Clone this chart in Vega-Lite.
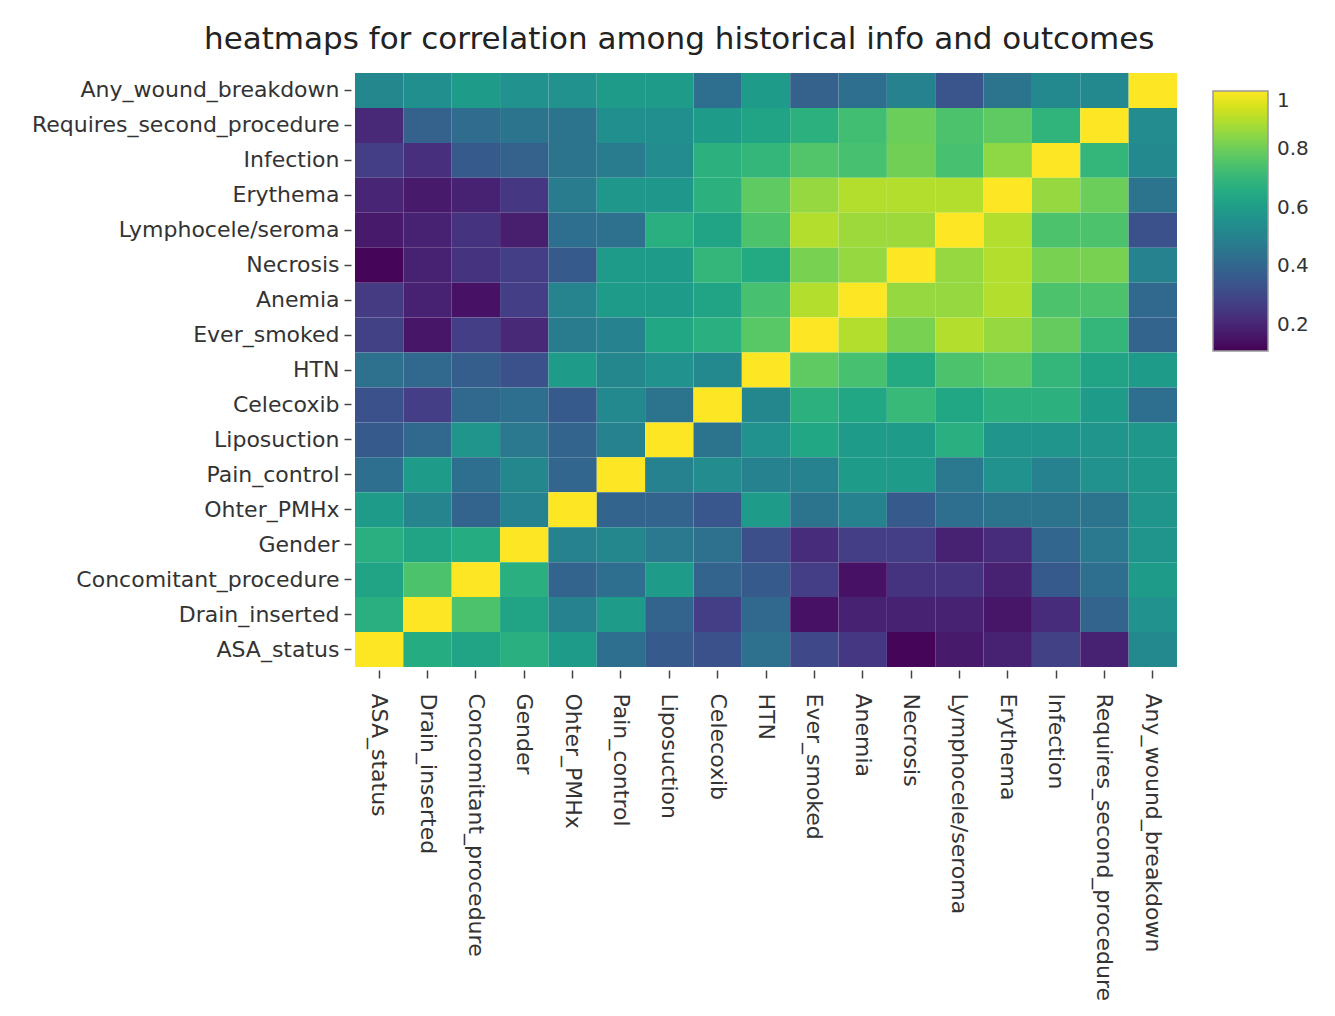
{
  "$schema": "https://vega.github.io/schema/vega-lite/v6.json",
  "width": 822,
  "height": 594,
  "padding": {"left": 31, "top": 24, "right": 5, "bottom": 5},
  "background": "white",
  "title": {"text": "heatmaps for correlation among historical info and outcomes", "font": "DejaVu Sans", "fontSize": 31, "fontWeight": "normal", "color": "#222", "anchor": "middle", "frame": "bounds", "offset": 17},
  "data": {"values": [
{"row":"Any_wound_breakdown","col":"ASA_status","corr":0.52},{"row":"Any_wound_breakdown","col":"Drain_inserted","corr":0.55},{"row":"Any_wound_breakdown","col":"Concomitant_procedure","corr":0.6},{"row":"Any_wound_breakdown","col":"Gender","corr":0.56},{"row":"Any_wound_breakdown","col":"Ohter_PMHx","corr":0.56},{"row":"Any_wound_breakdown","col":"Pain_control","corr":0.6},{"row":"Any_wound_breakdown","col":"Liposuction","corr":0.6},{"row":"Any_wound_breakdown","col":"Celecoxib","corr":0.43},{"row":"Any_wound_breakdown","col":"HTN","corr":0.6},{"row":"Any_wound_breakdown","col":"Ever_smoked","corr":0.38},{"row":"Any_wound_breakdown","col":"Anemia","corr":0.43},{"row":"Any_wound_breakdown","col":"Necrosis","corr":0.5},{"row":"Any_wound_breakdown","col":"Lymphocele/seroma","corr":0.34},{"row":"Any_wound_breakdown","col":"Erythema","corr":0.45},{"row":"Any_wound_breakdown","col":"Infection","corr":0.53},{"row":"Any_wound_breakdown","col":"Requires_second_procedure","corr":0.53},{"row":"Any_wound_breakdown","col":"Any_wound_breakdown","corr":1},
{"row":"Requires_second_procedure","col":"ASA_status","corr":0.21},{"row":"Requires_second_procedure","col":"Drain_inserted","corr":0.38},{"row":"Requires_second_procedure","col":"Concomitant_procedure","corr":0.42},{"row":"Requires_second_procedure","col":"Gender","corr":0.45},{"row":"Requires_second_procedure","col":"Ohter_PMHx","corr":0.45},{"row":"Requires_second_procedure","col":"Pain_control","corr":0.55},{"row":"Requires_second_procedure","col":"Liposuction","corr":0.55},{"row":"Requires_second_procedure","col":"Celecoxib","corr":0.6},{"row":"Requires_second_procedure","col":"HTN","corr":0.63},{"row":"Requires_second_procedure","col":"Ever_smoked","corr":0.68},{"row":"Requires_second_procedure","col":"Anemia","corr":0.73},{"row":"Requires_second_procedure","col":"Necrosis","corr":0.8},{"row":"Requires_second_procedure","col":"Lymphocele/seroma","corr":0.75},{"row":"Requires_second_procedure","col":"Erythema","corr":0.78},{"row":"Requires_second_procedure","col":"Infection","corr":0.69},{"row":"Requires_second_procedure","col":"Requires_second_procedure","corr":1},{"row":"Requires_second_procedure","col":"Any_wound_breakdown","corr":0.54},
{"row":"Infection","col":"ASA_status","corr":0.27},{"row":"Infection","col":"Drain_inserted","corr":0.23},{"row":"Infection","col":"Concomitant_procedure","corr":0.36},{"row":"Infection","col":"Gender","corr":0.38},{"row":"Infection","col":"Ohter_PMHx","corr":0.45},{"row":"Infection","col":"Pain_control","corr":0.48},{"row":"Infection","col":"Liposuction","corr":0.54},{"row":"Infection","col":"Celecoxib","corr":0.68},{"row":"Infection","col":"HTN","corr":0.7},{"row":"Infection","col":"Ever_smoked","corr":0.76},{"row":"Infection","col":"Anemia","corr":0.74},{"row":"Infection","col":"Necrosis","corr":0.81},{"row":"Infection","col":"Lymphocele/seroma","corr":0.74},{"row":"Infection","col":"Erythema","corr":0.85},{"row":"Infection","col":"Infection","corr":1},{"row":"Infection","col":"Requires_second_procedure","corr":0.7},{"row":"Infection","col":"Any_wound_breakdown","corr":0.53},
{"row":"Erythema","col":"ASA_status","corr":0.2},{"row":"Erythema","col":"Drain_inserted","corr":0.17},{"row":"Erythema","col":"Concomitant_procedure","corr":0.19},{"row":"Erythema","col":"Gender","corr":0.25},{"row":"Erythema","col":"Ohter_PMHx","corr":0.48},{"row":"Erythema","col":"Pain_control","corr":0.58},{"row":"Erythema","col":"Liposuction","corr":0.58},{"row":"Erythema","col":"Celecoxib","corr":0.68},{"row":"Erythema","col":"HTN","corr":0.78},{"row":"Erythema","col":"Ever_smoked","corr":0.86},{"row":"Erythema","col":"Anemia","corr":0.9},{"row":"Erythema","col":"Necrosis","corr":0.9},{"row":"Erythema","col":"Lymphocele/seroma","corr":0.9},{"row":"Erythema","col":"Erythema","corr":1},{"row":"Erythema","col":"Infection","corr":0.86},{"row":"Erythema","col":"Requires_second_procedure","corr":0.8},{"row":"Erythema","col":"Any_wound_breakdown","corr":0.45},
{"row":"Lymphocele/seroma","col":"ASA_status","corr":0.17},{"row":"Lymphocele/seroma","col":"Drain_inserted","corr":0.19},{"row":"Lymphocele/seroma","col":"Concomitant_procedure","corr":0.24},{"row":"Lymphocele/seroma","col":"Gender","corr":0.18},{"row":"Lymphocele/seroma","col":"Ohter_PMHx","corr":0.43},{"row":"Lymphocele/seroma","col":"Pain_control","corr":0.44},{"row":"Lymphocele/seroma","col":"Liposuction","corr":0.67},{"row":"Lymphocele/seroma","col":"Celecoxib","corr":0.63},{"row":"Lymphocele/seroma","col":"HTN","corr":0.75},{"row":"Lymphocele/seroma","col":"Ever_smoked","corr":0.9},{"row":"Lymphocele/seroma","col":"Anemia","corr":0.87},{"row":"Lymphocele/seroma","col":"Necrosis","corr":0.87},{"row":"Lymphocele/seroma","col":"Lymphocele/seroma","corr":1},{"row":"Lymphocele/seroma","col":"Erythema","corr":0.9},{"row":"Lymphocele/seroma","col":"Infection","corr":0.75},{"row":"Lymphocele/seroma","col":"Requires_second_procedure","corr":0.75},{"row":"Lymphocele/seroma","col":"Any_wound_breakdown","corr":0.33},
{"row":"Necrosis","col":"ASA_status","corr":0.12},{"row":"Necrosis","col":"Drain_inserted","corr":0.19},{"row":"Necrosis","col":"Concomitant_procedure","corr":0.24},{"row":"Necrosis","col":"Gender","corr":0.27},{"row":"Necrosis","col":"Ohter_PMHx","corr":0.36},{"row":"Necrosis","col":"Pain_control","corr":0.6},{"row":"Necrosis","col":"Liposuction","corr":0.6},{"row":"Necrosis","col":"Celecoxib","corr":0.7},{"row":"Necrosis","col":"HTN","corr":0.65},{"row":"Necrosis","col":"Ever_smoked","corr":0.82},{"row":"Necrosis","col":"Anemia","corr":0.86},{"row":"Necrosis","col":"Necrosis","corr":1},{"row":"Necrosis","col":"Lymphocele/seroma","corr":0.86},{"row":"Necrosis","col":"Erythema","corr":0.9},{"row":"Necrosis","col":"Infection","corr":0.82},{"row":"Necrosis","col":"Requires_second_procedure","corr":0.82},{"row":"Necrosis","col":"Any_wound_breakdown","corr":0.5},
{"row":"Anemia","col":"ASA_status","corr":0.26},{"row":"Anemia","col":"Drain_inserted","corr":0.19},{"row":"Anemia","col":"Concomitant_procedure","corr":0.15},{"row":"Anemia","col":"Gender","corr":0.27},{"row":"Anemia","col":"Ohter_PMHx","corr":0.51},{"row":"Anemia","col":"Pain_control","corr":0.6},{"row":"Anemia","col":"Liposuction","corr":0.6},{"row":"Anemia","col":"Celecoxib","corr":0.63},{"row":"Anemia","col":"HTN","corr":0.74},{"row":"Anemia","col":"Ever_smoked","corr":0.9},{"row":"Anemia","col":"Anemia","corr":1},{"row":"Anemia","col":"Necrosis","corr":0.86},{"row":"Anemia","col":"Lymphocele/seroma","corr":0.86},{"row":"Anemia","col":"Erythema","corr":0.9},{"row":"Anemia","col":"Infection","corr":0.75},{"row":"Anemia","col":"Requires_second_procedure","corr":0.75},{"row":"Anemia","col":"Any_wound_breakdown","corr":0.41},
{"row":"Ever_smoked","col":"ASA_status","corr":0.28},{"row":"Ever_smoked","col":"Drain_inserted","corr":0.16},{"row":"Ever_smoked","col":"Concomitant_procedure","corr":0.27},{"row":"Ever_smoked","col":"Gender","corr":0.21},{"row":"Ever_smoked","col":"Ohter_PMHx","corr":0.48},{"row":"Ever_smoked","col":"Pain_control","corr":0.5},{"row":"Ever_smoked","col":"Liposuction","corr":0.64},{"row":"Ever_smoked","col":"Celecoxib","corr":0.67},{"row":"Ever_smoked","col":"HTN","corr":0.77},{"row":"Ever_smoked","col":"Ever_smoked","corr":1},{"row":"Ever_smoked","col":"Anemia","corr":0.9},{"row":"Ever_smoked","col":"Necrosis","corr":0.82},{"row":"Ever_smoked","col":"Lymphocele/seroma","corr":0.9},{"row":"Ever_smoked","col":"Erythema","corr":0.86},{"row":"Ever_smoked","col":"Infection","corr":0.79},{"row":"Ever_smoked","col":"Requires_second_procedure","corr":0.7},{"row":"Ever_smoked","col":"Any_wound_breakdown","corr":0.39},
{"row":"HTN","col":"ASA_status","corr":0.44},{"row":"HTN","col":"Drain_inserted","corr":0.41},{"row":"HTN","col":"Concomitant_procedure","corr":0.37},{"row":"HTN","col":"Gender","corr":0.33},{"row":"HTN","col":"Ohter_PMHx","corr":0.6},{"row":"HTN","col":"Pain_control","corr":0.52},{"row":"HTN","col":"Liposuction","corr":0.56},{"row":"HTN","col":"Celecoxib","corr":0.53},{"row":"HTN","col":"HTN","corr":1},{"row":"HTN","col":"Ever_smoked","corr":0.78},{"row":"HTN","col":"Anemia","corr":0.74},{"row":"HTN","col":"Necrosis","corr":0.65},{"row":"HTN","col":"Lymphocele/seroma","corr":0.75},{"row":"HTN","col":"Erythema","corr":0.77},{"row":"HTN","col":"Infection","corr":0.7},{"row":"HTN","col":"Requires_second_procedure","corr":0.63},{"row":"HTN","col":"Any_wound_breakdown","corr":0.6},
{"row":"Celecoxib","col":"ASA_status","corr":0.33},{"row":"Celecoxib","col":"Drain_inserted","corr":0.27},{"row":"Celecoxib","col":"Concomitant_procedure","corr":0.41},{"row":"Celecoxib","col":"Gender","corr":0.43},{"row":"Celecoxib","col":"Ohter_PMHx","corr":0.36},{"row":"Celecoxib","col":"Pain_control","corr":0.53},{"row":"Celecoxib","col":"Liposuction","corr":0.45},{"row":"Celecoxib","col":"Celecoxib","corr":1},{"row":"Celecoxib","col":"HTN","corr":0.52},{"row":"Celecoxib","col":"Ever_smoked","corr":0.68},{"row":"Celecoxib","col":"Anemia","corr":0.64},{"row":"Celecoxib","col":"Necrosis","corr":0.71},{"row":"Celecoxib","col":"Lymphocele/seroma","corr":0.64},{"row":"Celecoxib","col":"Erythema","corr":0.68},{"row":"Celecoxib","col":"Infection","corr":0.68},{"row":"Celecoxib","col":"Requires_second_procedure","corr":0.6},{"row":"Celecoxib","col":"Any_wound_breakdown","corr":0.43},
{"row":"Liposuction","col":"ASA_status","corr":0.36},{"row":"Liposuction","col":"Drain_inserted","corr":0.41},{"row":"Liposuction","col":"Concomitant_procedure","corr":0.57},{"row":"Liposuction","col":"Gender","corr":0.47},{"row":"Liposuction","col":"Ohter_PMHx","corr":0.39},{"row":"Liposuction","col":"Pain_control","corr":0.5},{"row":"Liposuction","col":"Liposuction","corr":1},{"row":"Liposuction","col":"Celecoxib","corr":0.45},{"row":"Liposuction","col":"HTN","corr":0.56},{"row":"Liposuction","col":"Ever_smoked","corr":0.64},{"row":"Liposuction","col":"Anemia","corr":0.6},{"row":"Liposuction","col":"Necrosis","corr":0.6},{"row":"Liposuction","col":"Lymphocele/seroma","corr":0.67},{"row":"Liposuction","col":"Erythema","corr":0.57},{"row":"Liposuction","col":"Infection","corr":0.57},{"row":"Liposuction","col":"Requires_second_procedure","corr":0.57},{"row":"Liposuction","col":"Any_wound_breakdown","corr":0.58},
{"row":"Pain_control","col":"ASA_status","corr":0.43},{"row":"Pain_control","col":"Drain_inserted","corr":0.6},{"row":"Pain_control","col":"Concomitant_procedure","corr":0.43},{"row":"Pain_control","col":"Gender","corr":0.52},{"row":"Pain_control","col":"Ohter_PMHx","corr":0.4},{"row":"Pain_control","col":"Pain_control","corr":1},{"row":"Pain_control","col":"Liposuction","corr":0.5},{"row":"Pain_control","col":"Celecoxib","corr":0.54},{"row":"Pain_control","col":"HTN","corr":0.5},{"row":"Pain_control","col":"Ever_smoked","corr":0.5},{"row":"Pain_control","col":"Anemia","corr":0.6},{"row":"Pain_control","col":"Necrosis","corr":0.6},{"row":"Pain_control","col":"Lymphocele/seroma","corr":0.47},{"row":"Pain_control","col":"Erythema","corr":0.56},{"row":"Pain_control","col":"Infection","corr":0.5},{"row":"Pain_control","col":"Requires_second_procedure","corr":0.56},{"row":"Pain_control","col":"Any_wound_breakdown","corr":0.58},
{"row":"Ohter_PMHx","col":"ASA_status","corr":0.6},{"row":"Ohter_PMHx","col":"Drain_inserted","corr":0.51},{"row":"Ohter_PMHx","col":"Concomitant_procedure","corr":0.39},{"row":"Ohter_PMHx","col":"Gender","corr":0.5},{"row":"Ohter_PMHx","col":"Ohter_PMHx","corr":1},{"row":"Ohter_PMHx","col":"Pain_control","corr":0.39},{"row":"Ohter_PMHx","col":"Liposuction","corr":0.39},{"row":"Ohter_PMHx","col":"Celecoxib","corr":0.35},{"row":"Ohter_PMHx","col":"HTN","corr":0.6},{"row":"Ohter_PMHx","col":"Ever_smoked","corr":0.45},{"row":"Ohter_PMHx","col":"Anemia","corr":0.5},{"row":"Ohter_PMHx","col":"Necrosis","corr":0.36},{"row":"Ohter_PMHx","col":"Lymphocele/seroma","corr":0.43},{"row":"Ohter_PMHx","col":"Erythema","corr":0.45},{"row":"Ohter_PMHx","col":"Infection","corr":0.45},{"row":"Ohter_PMHx","col":"Requires_second_procedure","corr":0.45},{"row":"Ohter_PMHx","col":"Any_wound_breakdown","corr":0.57},
{"row":"Gender","col":"ASA_status","corr":0.67},{"row":"Gender","col":"Drain_inserted","corr":0.63},{"row":"Gender","col":"Concomitant_procedure","corr":0.66},{"row":"Gender","col":"Gender","corr":1},{"row":"Gender","col":"Ohter_PMHx","corr":0.5},{"row":"Gender","col":"Pain_control","corr":0.52},{"row":"Gender","col":"Liposuction","corr":0.47},{"row":"Gender","col":"Celecoxib","corr":0.44},{"row":"Gender","col":"HTN","corr":0.32},{"row":"Gender","col":"Ever_smoked","corr":0.22},{"row":"Gender","col":"Anemia","corr":0.27},{"row":"Gender","col":"Necrosis","corr":0.27},{"row":"Gender","col":"Lymphocele/seroma","corr":0.19},{"row":"Gender","col":"Erythema","corr":0.22},{"row":"Gender","col":"Infection","corr":0.4},{"row":"Gender","col":"Requires_second_procedure","corr":0.47},{"row":"Gender","col":"Any_wound_breakdown","corr":0.57},
{"row":"Concomitant_procedure","col":"ASA_status","corr":0.63},{"row":"Concomitant_procedure","col":"Drain_inserted","corr":0.75},{"row":"Concomitant_procedure","col":"Concomitant_procedure","corr":1},{"row":"Concomitant_procedure","col":"Gender","corr":0.67},{"row":"Concomitant_procedure","col":"Ohter_PMHx","corr":0.39},{"row":"Concomitant_procedure","col":"Pain_control","corr":0.43},{"row":"Concomitant_procedure","col":"Liposuction","corr":0.6},{"row":"Concomitant_procedure","col":"Celecoxib","corr":0.39},{"row":"Concomitant_procedure","col":"HTN","corr":0.36},{"row":"Concomitant_procedure","col":"Ever_smoked","corr":0.27},{"row":"Concomitant_procedure","col":"Anemia","corr":0.15},{"row":"Concomitant_procedure","col":"Necrosis","corr":0.24},{"row":"Concomitant_procedure","col":"Lymphocele/seroma","corr":0.24},{"row":"Concomitant_procedure","col":"Erythema","corr":0.19},{"row":"Concomitant_procedure","col":"Infection","corr":0.36},{"row":"Concomitant_procedure","col":"Requires_second_procedure","corr":0.43},{"row":"Concomitant_procedure","col":"Any_wound_breakdown","corr":0.6},
{"row":"Drain_inserted","col":"ASA_status","corr":0.67},{"row":"Drain_inserted","col":"Drain_inserted","corr":1},{"row":"Drain_inserted","col":"Concomitant_procedure","corr":0.75},{"row":"Drain_inserted","col":"Gender","corr":0.63},{"row":"Drain_inserted","col":"Ohter_PMHx","corr":0.5},{"row":"Drain_inserted","col":"Pain_control","corr":0.6},{"row":"Drain_inserted","col":"Liposuction","corr":0.39},{"row":"Drain_inserted","col":"Celecoxib","corr":0.27},{"row":"Drain_inserted","col":"HTN","corr":0.41},{"row":"Drain_inserted","col":"Ever_smoked","corr":0.15},{"row":"Drain_inserted","col":"Anemia","corr":0.19},{"row":"Drain_inserted","col":"Necrosis","corr":0.19},{"row":"Drain_inserted","col":"Lymphocele/seroma","corr":0.19},{"row":"Drain_inserted","col":"Erythema","corr":0.16},{"row":"Drain_inserted","col":"Infection","corr":0.22},{"row":"Drain_inserted","col":"Requires_second_procedure","corr":0.39},{"row":"Drain_inserted","col":"Any_wound_breakdown","corr":0.56},
{"row":"ASA_status","col":"ASA_status","corr":1},{"row":"ASA_status","col":"Drain_inserted","corr":0.66},{"row":"ASA_status","col":"Concomitant_procedure","corr":0.63},{"row":"ASA_status","col":"Gender","corr":0.67},{"row":"ASA_status","col":"Ohter_PMHx","corr":0.6},{"row":"ASA_status","col":"Pain_control","corr":0.43},{"row":"ASA_status","col":"Liposuction","corr":0.36},{"row":"ASA_status","col":"Celecoxib","corr":0.33},{"row":"ASA_status","col":"HTN","corr":0.44},{"row":"ASA_status","col":"Ever_smoked","corr":0.3},{"row":"ASA_status","col":"Anemia","corr":0.25},{"row":"ASA_status","col":"Necrosis","corr":0.12},{"row":"ASA_status","col":"Lymphocele/seroma","corr":0.17},{"row":"ASA_status","col":"Erythema","corr":0.19},{"row":"ASA_status","col":"Infection","corr":0.28},{"row":"ASA_status","col":"Requires_second_procedure","corr":0.19},{"row":"ASA_status","col":"Any_wound_breakdown","corr":0.53}
  ]},
  "mark": {"type": "rect", "stroke": null},
  "encoding": {
    "x": {"field": "col", "type": "nominal", "title": null,
      "sort": ["ASA_status","Drain_inserted","Concomitant_procedure","Gender","Ohter_PMHx","Pain_control","Liposuction","Celecoxib","HTN","Ever_smoked","Anemia","Necrosis","Lymphocele/seroma","Erythema","Infection","Requires_second_procedure","Any_wound_breakdown"],
      "axis": {"orient": "bottom", "labelAngle": 90, "labelAlign": "left", "labelBaseline": "middle", "labelFont": "DejaVu Sans", "labelFontSize": 22, "labelColor": "#333", "domain": false, "grid": false, "ticks": true, "tickColor": "#444", "tickSize": 8, "tickWidth": 1.5, "offset": 3, "labelPadding": 15, "labelLimit": 0}},
    "y": {"field": "row", "type": "nominal", "title": null,
      "sort": ["Any_wound_breakdown","Requires_second_procedure","Infection","Erythema","Lymphocele/seroma","Necrosis","Anemia","Ever_smoked","HTN","Celecoxib","Liposuction","Pain_control","Ohter_PMHx","Gender","Concomitant_procedure","Drain_inserted","ASA_status"],
      "axis": {"labelFont": "DejaVu Sans", "labelFontSize": 22, "labelColor": "#333", "domain": false, "grid": false, "ticks": true, "tickColor": "#444", "tickSize": 7, "tickWidth": 1.5, "offset": 4, "labelPadding": 5, "labelLimit": 0}},
    "color": {"field": "corr", "type": "quantitative", "title": null,
      "scale": {"scheme": "viridis", "domain": [0.11, 1]},
      "legend": {"orient": "right", "offset": 18, "padding": 18, "gradientLength": 260, "gradientThickness": 55, "values": [0.2, 0.4, 0.6, 0.8, 1], "format": "~g", "labelBaseline": "middle", "labelFont": "DejaVu Sans", "labelFontSize": 20, "labelColor": "#333", "labelOffset": 9, "gradientStrokeColor": "#999", "gradientStrokeWidth": 1.5}}
  },
  "config": {"view": {"stroke": null}}
}
